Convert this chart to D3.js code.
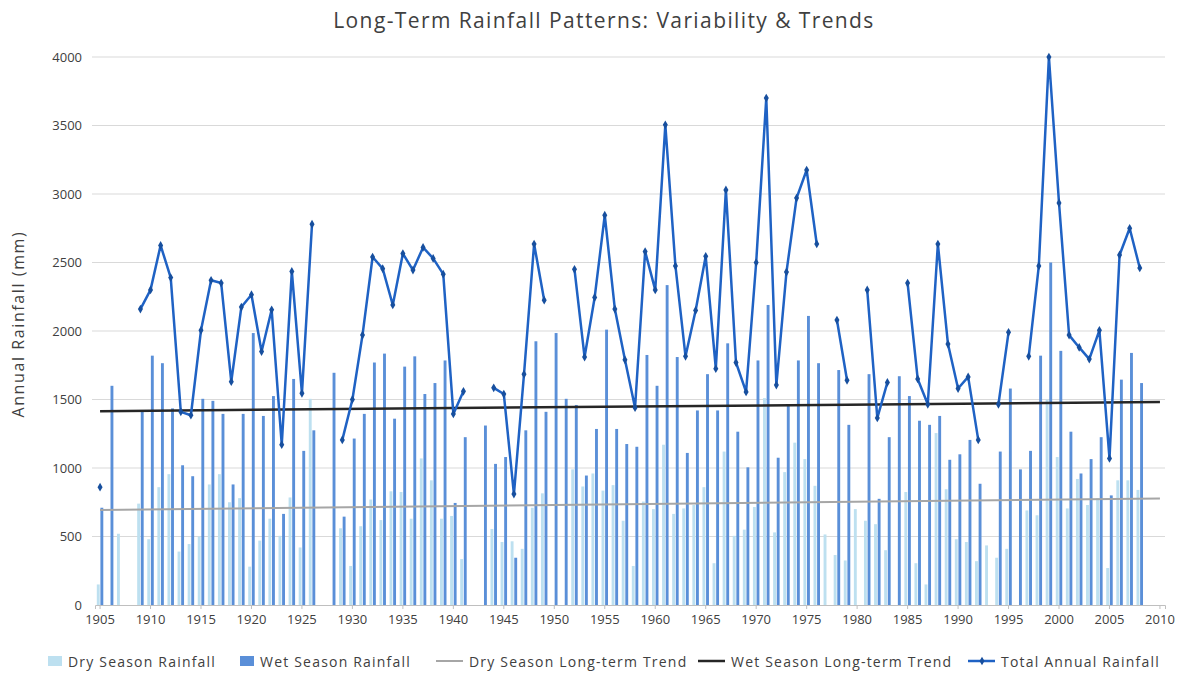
<!DOCTYPE html>
<html>
<head>
<meta charset="utf-8">
<script src="https://cdn.jsdelivr.net/npm/d3@7"></script>
<style>
    body { margin: 0; background: #fff; }
    text { font-family: "Open Sans", "Liberation Sans", sans-serif; fill: #404040; }
</style>
</head>
<body>
<div id="chart"></div>
<script>
// data, one value per year from 1905 to 2008 (null = no record)
var firstYear = 1905
var lastCategory = 2010
var dryRain = [150, null, 520, null, 740, 480, 860, 955, 390, 445,
    500, 880, 955, 750, 780, 280, 470, 630, 505, 785,
    420, 1505, null, null, 560, 285, 575, 770, 620, 830,
    825, 630, 1070, 910, 630, 650, 335, null, null, 555,
    460, 465, 410, 710, 815, null, null, 990, 865, 960,
    835, 875, 615, 285, 755, 700, 1170, 665, 705, 730,
    860, 305, 1120, 505, 550, 715, 1510, 530, 970, 1185,
    1065, 870, 515, 365, 325, 700, 615, 590, 400, null,
    825, 305, 150, 1255, 845, 480, 460, 320, 435, 345,
    410, null, 690, 655, 1500, 1080, 705, 920, 730, 780,
    270, 910, 910, 840]
var wetRain = [710, 1600, null, null, 1420, 1820, 1765, 1435, 1020, 940,
    1505, 1490, 1395, 880, 1395, 1985, 1380, 1525, 665, 1650,
    1125, 1275, null, 1695, 645, 1215, 1395, 1770, 1835, 1360,
    1740, 1815, 1540, 1620, 1785, 745, 1225, null, 1310, 1030,
    1080, 345, 1275, 1925, 1410, 1985, 1505, 1460, 945, 1285,
    2010, 1285, 1175, 1155, 1825, 1600, 2335, 1810, 1110, 1420,
    1685, 1420, 1910, 1265, 1005, 1785, 2190, 1075, 1460, 1785,
    2110, 1765, null, 1715, 1315, null, 1685, 775, 1225, 1670,
    1525, 1345, 1315, 1380, 1060, 1100, 1205, 885, null, 1120,
    1580, 990, 1125, 1820, 2500, 1855, 1265, 960, 1065, 1225,
    800, 1645, 1840, 1620]
var totalRain = [860, null, null, null, 2160, 2300, 2625, 2390, 1410, 1385,
    2005, 2370, 2350, 1630, 2175, 2265, 1850, 2155, 1170, 2435,
    1545, 2780, null, null, 1205, 1500, 1970, 2540, 2455, 2190,
    2565, 2445, 2610, 2530, 2415, 1395, 1560, null, null, 1585,
    1540, 810, 1685, 2635, 2225, null, null, 2450, 1810, 2245,
    2845, 2160, 1790, 1440, 2580, 2300, 3505, 2475, 1815, 2150,
    2545, 1725, 3030, 1770, 1555, 2500, 3700, 1605, 2430, 2970,
    3175, 2635, null, 2080, 1640, null, 2300, 1365, 1625, null,
    2350, 1650, 1465, 2635, 1905, 1580, 1665, 1205, null, 1465,
    1990, null, 1815, 2475, 4000, 2935, 1970, 1880, 1795, 2005,
    1070, 2555, 2750, 2460]
// long-term trend end points (first and last category)
var trendYears = [1905, 2010]
var dryTrend = [693, 778]
var wetTrend = [1415, 1482]
var yTicks = [0, 500, 1000, 1500, 2000, 2500, 3000, 3500, 4000]
var legendNames = ["Dry Season Rainfall", "Wet Season Rainfall", "Dry Season Long-term Trend",
    "Wet Season Long-term Trend", "Total Annual Rainfall"]

var width = 1182, height = 673
var margin = {top: 57, right: 17, bottom: 68, left: 95}
var colors = {dry: "#bde0f0", wet: "#5a8fd8", dryTrend: "#a6a6a6", wetTrend: "#262626", total: "#1f62c4"}

var years = d3.range(firstYear, lastCategory + 1)
var rows = dryRain.map(function(d, i) {
    return {year: firstYear + i, dry: d, wet: wetRain[i], total: totalRain[i]}
})

var svg = d3.select("#chart").append("svg")
    .attr("width", width)
    .attr("height", height)

var x = d3.scaleBand()
    .domain(years)
    .range([margin.left, width - margin.right])

var xInner = d3.scaleBand()
    .domain(["dry", "wet"])
    .range([0, x.bandwidth()])
    .paddingInner(0.2)
    .paddingOuter(0.5)

var y = d3.scaleLinear()
    .domain([0, 4000])
    .range([height - margin.bottom, margin.top])

// gridlines
svg.append("g")
    .selectAll("line")
    .data(yTicks.slice(1))
    .enter().append("line")
    .attr("x1", margin.left - 3)
    .attr("x2", width - margin.right)
    .attr("y1", function(d) { return y(d) })
    .attr("y2", function(d) { return y(d) })
    .attr("stroke", "#d9d9d9")
    .attr("stroke-width", 1.2)

// y axis labels
var yAxis = svg.append("g")
    .attr("transform", "translate(" + (margin.left - 4) + ",0)")
    .call(d3.axisLeft(y).tickValues(yTicks).tickFormat(d3.format("d")).tickSize(0).tickPadding(9))
yAxis.select(".domain").remove()
yAxis.selectAll("text").style("font-size", "13px").style("fill", "#404040")

// bars
var barGroup = svg.append("g")
rows.forEach(function(r) {
    ["dry", "wet"].forEach(function(key) {
        if (r[key] == null) return
        barGroup.append("rect")
            .attr("x", x(r.year) + xInner(key))
            .attr("width", xInner.bandwidth())
            .attr("y", y(r[key]))
            .attr("height", y(0) - y(r[key]))
            .attr("fill", colors[key])
    })
})

// x axis
var xAxis = svg.append("g")
    .attr("transform", "translate(0," + y(0) + ")")
    .call(d3.axisBottom(x)
        .tickValues(years.filter(function(d) { return d % 5 == 0 }))
        .tickSize(4)
        .tickPadding(6))
xAxis.select(".domain").attr("stroke", "#bfbfbf")
xAxis.selectAll(".tick line").attr("stroke", "#bfbfbf")
xAxis.selectAll("text").style("font-size", "13px").style("fill", "#404040")

// trend lines
var trendLine = d3.line()
    .x(function(d) { return x(d[0]) + x.bandwidth() / 2 })
    .y(function(d) { return y(d[1]) })

svg.append("path")
    .datum(trendYears.map(function(yr, i) { return [yr, dryTrend[i]] }))
    .attr("d", trendLine)
    .attr("fill", "none")
    .attr("stroke", colors.dryTrend)
    .attr("stroke-width", 2)

svg.append("path")
    .datum(trendYears.map(function(yr, i) { return [yr, wetTrend[i]] }))
    .attr("d", trendLine)
    .attr("fill", "none")
    .attr("stroke", colors.wetTrend)
    .attr("stroke-width", 2.5)

// total annual rainfall line with gaps
var totalLine = d3.line()
    .defined(function(d) { return d.total != null })
    .x(function(d) { return x(d.year) + x.bandwidth() / 2 })
    .y(function(d) { return y(d.total) })

svg.append("path")
    .datum(rows)
    .attr("d", totalLine)
    .attr("fill", "none")
    .attr("stroke", colors.total)
    .attr("stroke-width", 2.5)
    .attr("stroke-linejoin", "round")

svg.append("g")
    .selectAll("path")
    .data(rows.filter(function(d) { return d.total != null }))
    .enter().append("path")
    .attr("d", d3.symbol().type(d3.symbolDiamond).size(22))
    .attr("transform", function(d) {
        return "translate(" + (x(d.year) + x.bandwidth() / 2) + "," + y(d.total) + ")"
    })
    .attr("fill", "#174f9e")

// title
svg.append("text")
    .attr("x", 604)
    .attr("y", 28)
    .attr("text-anchor", "middle")
    .style("font-size", "21px")
    .style("letter-spacing", "1.4px")
    .text("Long-Term Rainfall Patterns: Variability & Trends")

// y axis title
svg.append("text")
    .attr("transform", "translate(24," + y(2050) + ") rotate(-90)")
    .attr("text-anchor", "middle")
    .style("font-size", "16px")
    .style("letter-spacing", "1.6px")
    .text("Annual Rainfall (mm)")

// legend
var legendX = [48, 240, 436, 698, 968]
var legend = svg.append("g")
legendNames.forEach(function(name, i) {
    var lx = legendX[i], ly = 661
    if (i < 2) {
        legend.append("rect")
            .attr("x", lx).attr("y", ly - 5)
            .attr("width", 14).attr("height", 10)
            .attr("fill", i == 0 ? colors.dry : colors.wet)
    } else {
        legend.append("line")
            .attr("x1", lx).attr("x2", lx + 27)
            .attr("y1", ly).attr("y2", ly)
            .attr("stroke", i == 2 ? colors.dryTrend : (i == 3 ? colors.wetTrend : colors.total))
            .attr("stroke-width", i == 2 ? 2 : 2.5)
        if (i == 4) {
            legend.append("path")
                .attr("d", d3.symbol().type(d3.symbolDiamond).size(22))
                .attr("transform", "translate(" + (lx + 14) + "," + ly + ")")
                .attr("fill", "#174f9e")
        }
    }
    legend.append("text")
        .attr("x", lx + (i < 2 ? 20 : 33))
        .attr("y", ly)
        .attr("dominant-baseline", "central")
        .style("font-size", "14px")
        .style("letter-spacing", "1.2px")
        .text(name)
})
</script>
</body>
</html>
